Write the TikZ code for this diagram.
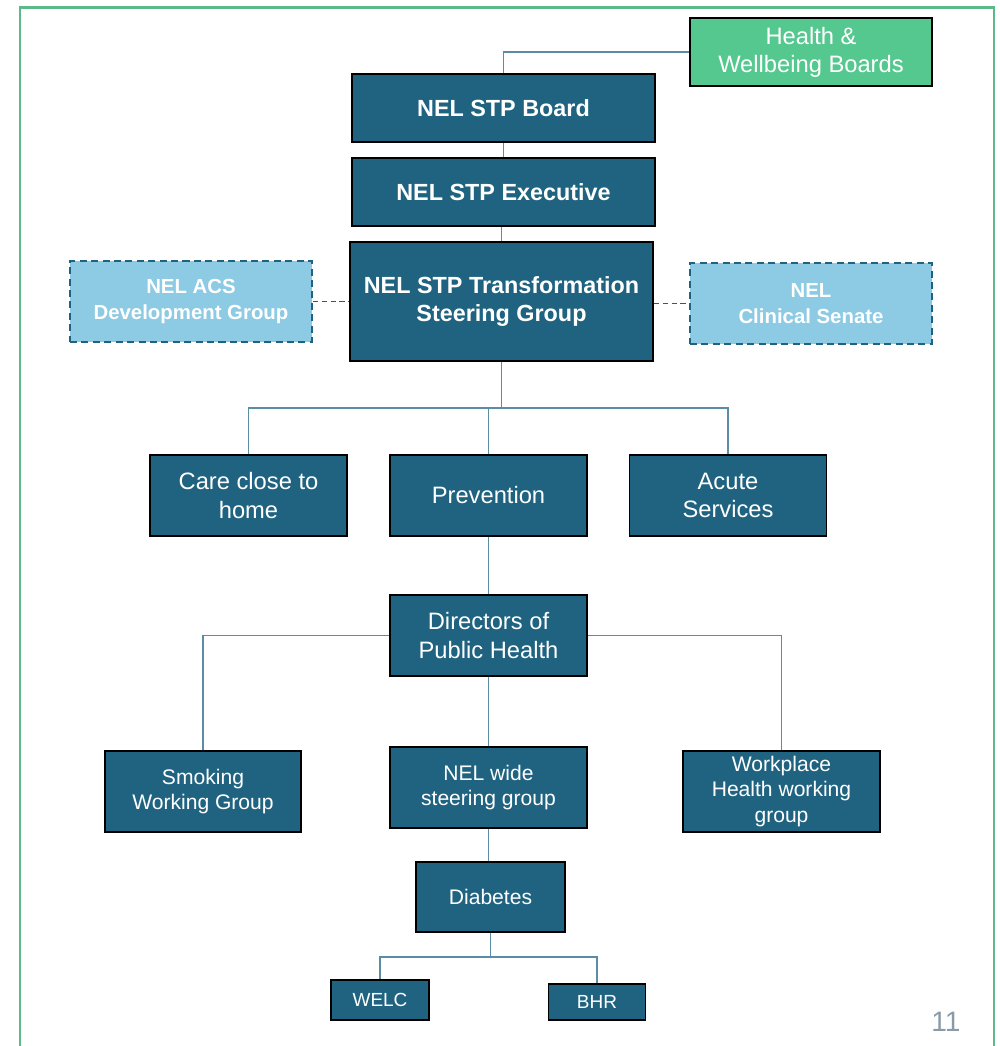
\documentclass[tikz,border=0pt]{standalone}
\usepackage{fontspec}
\setmainfont{Liberation Sans}
\usetikzlibrary{calc}
\definecolor{boxblue}{HTML}{1F6381}
\definecolor{hwbgreen}{HTML}{55C88F}
\definecolor{lightblue}{HTML}{8DCAE3}
\definecolor{connblue}{HTML}{5A8CA5}
\definecolor{framegreen}{HTML}{5BB98A}
\definecolor{linkpurple}{HTML}{7030A0}
\definecolor{pagegrey}{HTML}{8A9BA8}
\tikzset{
  unit/.style={draw=black, line width=1.1pt, fill=boxblue, text=white, align=center, inner sep=2pt},
  bigunit/.style={unit, font=\fontsize{13.5}{16}\selectfont},
  boldunit/.style={unit, font=\bfseries\fontsize{13.3}{16.5}\selectfont},
  smallunit/.style={unit, font=\fontsize{12}{14.6}\selectfont},
  tinyunit/.style={unit, font=\fontsize{10.8}{13}\selectfont},
  partner/.style={draw=boxblue, dashed, dash pattern=on 4pt off 2.5pt, line width=1.1pt, fill=lightblue, text=white, align=center, font=\bfseries\fontsize{11.6}{14.5}\selectfont},
  conn/.style={draw=connblue, line width=0.8pt},
  link/.style={draw=linkpurple, dashed, dash pattern=on 3pt off 2pt, line width=0.9pt}
}
\begin{document}
\begin{tikzpicture}[x=0.02cm, y=-0.02cm]
  \useasboundingbox (0,0) rectangle (1000,1046);
  \draw [framegreen, line width=1.7pt] (20,1046) -- (20,7) -- (994,7) -- (994,1046);
  \node [unit, fill=hwbgreen, text=white, font=\fontsize{13.5}{16}\selectfont, minimum width=4.84cm, minimum height=1.36cm] (hwb) at (811,52) {Health \&\\Wellbeing Boards};
  \node [boldunit, minimum width=6.06cm, minimum height=1.36cm] (board) at (503.5,108) {NEL STP Board};
  \node [boldunit, minimum width=6.06cm, minimum height=1.36cm] (exec) at (503.5,192) {NEL STP Executive};
  \node [boldunit, minimum width=6.06cm, minimum height=2.38cm] (steer) at (501.5,301.5) {NEL STP Transformation\\Steering Group};
  \node [partner, minimum width=4.84cm, minimum height=1.62cm] (acs) at (191,301.5) {NEL ACS\\Development Group};
  \node [partner, minimum width=4.84cm, minimum height=1.62cm] (senate) at (811,303.5) {NEL\\Clinical Senate};
  \node [bigunit, minimum width=3.94cm, minimum height=1.62cm] (care) at (248.5,495.5) {Care close to\\home};
  \node [bigunit, minimum width=3.94cm, minimum height=1.62cm] (prev) at (488.5,495.5) {Prevention};
  \node [bigunit, minimum width=3.94cm, minimum height=1.62cm] (acute) at (728,495.5) {Acute\\Services};
  \node [bigunit, minimum width=3.94cm, minimum height=1.62cm] (dph) at (488.5,635.5) {Directors of\\Public Health};
  \node [smallunit, minimum width=3.92cm, minimum height=1.62cm] (smoke) at (203,791.5) {Smoking\\Working Group};
  \node [smallunit, minimum width=3.94cm, minimum height=1.62cm] (wide) at (488.5,787.5) {NEL wide\\steering group};
  \node [smallunit, minimum width=3.94cm, minimum height=1.62cm] (work) at (781.5,791.5) {Workplace\\Health working\\group};
  \node [smallunit, minimum width=2.98cm, minimum height=1.40cm] (diab) at (490.5,897) {Diabetes};
  \node [tinyunit, minimum width=1.96cm, minimum height=0.80cm] (welc) at (380,1000) {WELC};
  \node [tinyunit, minimum width=1.94cm, minimum height=0.72cm] (bhr) at (597,1002) {BHR};
  \node [text=pagegrey, font=\fontsize{16}{19}\selectfont] (page) at (946,1022) {11};
  \coordinate (fork1) at (501.5,408);
  \coordinate (fork2) at (490.5,957);
  \draw [conn] (hwb.west) -| (board.north);
  \draw [conn] (board) -- (exec);
  \draw [conn] (exec.south -| steer.north) -- (steer.north);
  \draw [link] (acs.east) -- (acs.east -| steer.west);
  \draw [link] (steer.east |- senate.west) -- (senate.west);
  \draw [conn] (steer.south) -- (fork1) -| (care.north);
  \draw [conn] (fork1) -| (acute.north);
  \draw [conn] (fork1 -| prev.north) -- (prev.north);
  \draw [conn] (prev) -- (dph);
  \draw [conn] (dph.west) -| (smoke.north);
  \draw [conn] (dph.east) -| (work.north);
  \draw [conn] (dph) -- (wide);
  \draw [conn] (wide.south) -- (wide.south |- diab.north);
  \draw [conn] (diab.south) -- (fork2) -| (welc.north);
  \draw [conn] (fork2) -| (bhr.north);
\end{tikzpicture}
\end{document}
